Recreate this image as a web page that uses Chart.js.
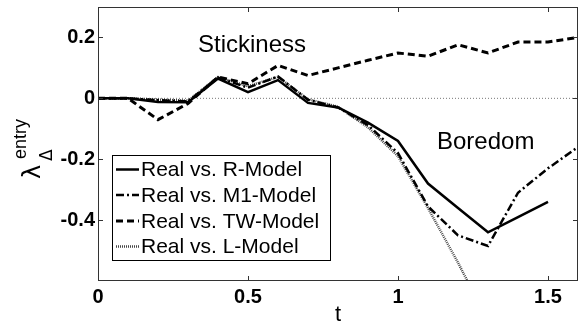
<!DOCTYPE html>
<html>
<head>
<meta charset="utf-8">
<script src="https://cdn.jsdelivr.net/npm/chart.js@4/dist/chart.umd.min.js"></script>
<style>
  html, body { margin: 0; padding: 0; background: #fff; }
  #wrap { width: 581px; height: 326px; }
</style>
</head>
<body>
<div id="wrap"><canvas id="c" width="581" height="326"></canvas></div>
<script>
const tValues = [0, 0.1, 0.2, 0.3, 0.4, 0.5, 0.6, 0.7, 0.8, 0.9, 1.0, 1.1, 1.2, 1.3, 1.4, 1.5, 1.6];
const rModel  = [0, 0, -0.012, -0.013, 0.065, 0.02, 0.06, -0.015, -0.03, -0.08, -0.14, -0.28, -0.36, -0.44, -0.39, -0.34, null];
const m1Model = [0, 0, -0.006, -0.01, 0.068, 0.035, 0.072, -0.005, -0.03, -0.088, -0.18, -0.355, -0.45, -0.485, -0.31, -0.23, -0.16];
const twModel = [0, 0, -0.07, -0.017, 0.07, 0.048, 0.108, 0.075, 0.1, 0.125, 0.149, 0.138, 0.176, 0.149, 0.185, 0.185, 0.2];
const lModel  = [0, 0, -0.004, -0.008, 0.07, 0.04, 0.07, -0.003, -0.028, -0.095, -0.19, -0.36, -0.54, -0.73, null, null, null];
const seriesNames = ['Real vs. R-Model', 'Real vs. M1-Model', 'Real vs. TW-Model', 'Real vs. L-Model'];
const zeroLineT = [0, 1.6];
const zeroLineV = [0, 0];
const xTicks = [0, 0.5, 1, 1.5];
const yTicks = [-0.4, -0.2, 0, 0.2];
const annotations = ['Stickiness', 'Boredom'];

const pts = (ys) => tValues.map((t, i) => ({ x: t, y: ys[i] }));

const styles = [
  { color: '#000', width: 2.5, dash: [] },
  { color: '#000', width: 2.5, dash: [8, 3, 2, 3] },
  { color: '#000', width: 3, dash: [7, 4] },
  { color: '#444', width: 2.5, dash: [1, 1] }
];
const seriesData = [rModel, m1Model, twModel, lModel];

const datasets = seriesData.map((ys, i) => ({
  label: seriesNames[i],
  data: pts(ys),
  borderColor: styles[i].color,
  borderWidth: styles[i].width,
  borderDash: styles[i].dash,
  pointRadius: 0,
  fill: false,
  tension: 0,
  spanGaps: false
}));
datasets.push({
  label: 'zero',
  data: zeroLineT.map((t, i) => ({ x: t, y: zeroLineV[i] })),
  borderColor: '#777',
  borderWidth: 1,
  borderDash: [1, 2],
  pointRadius: 0,
  fill: false
});

const decor = {
  id: 'decor',
  afterDatasetsDraw(chart) {
    const ctx = chart.ctx;
    const a = chart.chartArea;
    const xs = chart.scales.x, ys = chart.scales.y;
    ctx.save();
    // axes box
    ctx.strokeStyle = '#333';
    ctx.lineWidth = 1;
    ctx.setLineDash([]);
    ctx.strokeRect(Math.round(a.left) + 0.5, Math.round(a.top) + 0.5, Math.round(a.right - a.left) - 1, Math.round(a.bottom - a.top) - 1);
    // tick marks (inward)
    ctx.beginPath();
    xTicks.forEach(v => {
      const px = Math.round(xs.getPixelForValue(v)) + 0.5;
      ctx.moveTo(px, a.bottom); ctx.lineTo(px, a.bottom - 5);
      ctx.moveTo(px, a.top); ctx.lineTo(px, a.top + 5);
    });
    yTicks.forEach(v => {
      const py = Math.round(ys.getPixelForValue(v)) + 0.5;
      ctx.moveTo(a.left, py); ctx.lineTo(a.left + 5, py);
      ctx.moveTo(a.right, py); ctx.lineTo(a.right - 5, py);
    });
    ctx.stroke();

    // annotations
    ctx.fillStyle = '#000';
    ctx.font = '24px "Liberation Sans", Arial, sans-serif';
    ctx.textAlign = 'left';
    ctx.textBaseline = 'alphabetic';
    ctx.fillText(annotations[0], 198, 52);
    ctx.fillText(annotations[1], 437, 149);

    // x-axis title
    ctx.font = '22px "Liberation Sans", Arial, sans-serif';
    ctx.textAlign = 'center';
    ctx.fillText('t', (a.left + a.right) / 2, 321);

    // y-axis title (rotated)
    ctx.save();
    ctx.translate(40, 179);
    ctx.rotate(-Math.PI / 2);
    ctx.textAlign = 'left';
    ctx.font = '24px "DejaVu Sans", "Liberation Sans", sans-serif';
    ctx.fillText('λ', 0, 0);
    ctx.font = '18px "Liberation Sans", Arial, sans-serif';
    ctx.fillText('entry', 20, -14);
    ctx.font = '17px "DejaVu Sans", "Liberation Sans", sans-serif';
    ctx.fillText('Δ', 18, 12);
    ctx.restore();

    // legend
    const lx = 112, ly = 155, lw = 218, lh = 105;
    ctx.fillStyle = '#fff';
    ctx.fillRect(lx, ly, lw, lh);
    ctx.strokeStyle = '#000';
    ctx.lineWidth = 1;
    ctx.setLineDash([]);
    ctx.strokeRect(lx + 0.5, ly + 0.5, lw, lh);
    const rows = [169.5, 195, 221, 246.5];
    ctx.font = '21px "Liberation Sans", Arial, sans-serif';
    ctx.textBaseline = 'middle';
    ctx.textAlign = 'left';
    seriesNames.forEach((name, i) => {
      const st = styles[i];
      ctx.beginPath();
      ctx.strokeStyle = st.color;
      ctx.lineWidth = st.width;
      ctx.setLineDash(st.dash);
      ctx.moveTo(116, rows[i]);
      ctx.lineTo(139, rows[i]);
      ctx.stroke();
      ctx.setLineDash([]);
      ctx.fillStyle = '#000';
      ctx.fillText(name, 141, rows[i] + 1);
    });
    ctx.restore();
  }
};

new Chart(document.getElementById('c'), {
  type: 'line',
  data: { datasets },
  options: {
    responsive: false,
    animation: false,
    devicePixelRatio: 1,
    layout: { padding: { top: 7, right: 3, left: 0, bottom: 0 } },
    plugins: { legend: { display: false }, tooltip: { enabled: false } },
    scales: {
      x: {
        type: 'linear',
        min: 0, max: 1.6,
        afterBuildTicks: s => { s.ticks = xTicks.map(v => ({ value: v })); },
        afterFit: s => { s.height = 45; s.paddingLeft = 0; s.paddingRight = 0; },
        grid: { display: false, drawTicks: false },
        border: { display: false },
        ticks: {
          color: '#000',
          padding: 4,
          maxRotation: 0,
          font: { family: '"Liberation Sans", Arial, sans-serif', size: 20, weight: 'bold' },
          callback: v => String(v)
        }
      },
      y: {
        type: 'linear',
        min: -0.6, max: 0.3,
        afterBuildTicks: s => { s.ticks = yTicks.map(v => ({ value: v })); },
        afterFit: s => { s.width = 98; s.paddingTop = 0; s.paddingBottom = 0; },
        grid: { display: false, drawTicks: false },
        border: { display: false },
        ticks: {
          color: '#000',
          padding: 3,
          font: { family: '"Liberation Sans", Arial, sans-serif', size: 20, weight: 'bold' },
          callback: v => String(v)
        }
      }
    }
  },
  plugins: [decor]
});
</script>
</body>
</html>
